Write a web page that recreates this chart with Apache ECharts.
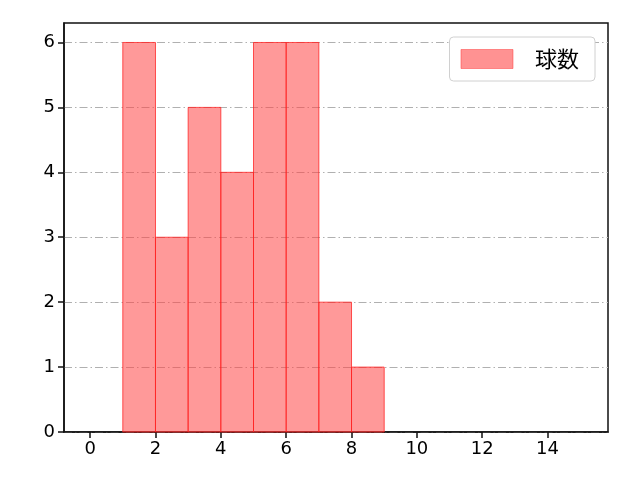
<!DOCTYPE html>
<html>
<head>
<meta charset="utf-8">
<script src="https://cdn.jsdelivr.net/npm/echarts@6/dist/echarts.min.js"></script>
<style>
  html, body { margin: 0; padding: 0; background: #fff; }
  #chart { width: 640px; height: 480px; }
</style>
</head>
<body>
<div id="chart"></div>
<script>
// histogram bins (left edge) and counts
const binStarts = [1, 2, 3, 4, 5, 6, 7, 8];
const binWidth = 1;
const counts = [6, 3, 5, 4, 6, 6, 2, 1];
const xTicks = [0, 2, 4, 6, 8, 10, 12, 14];
const yTicks = [0, 1, 2, 3, 4, 5, 6];
const seriesName = '球数';

const chart = echarts.init(document.getElementById('chart'));

const barData = binStarts.map((s, i) => [s, s + binWidth, counts[i]]);

const axisFont = { fontFamily: 'DejaVu Sans', fontSize: 18, color: '#000' };
const barFill = 'rgba(255,70,70,0.55)';
const barEdge = 'rgba(255,30,30,0.75)';

chart.setOption({
  animation: false,
  grid: {
    left: 64, right: 32, top: 23, bottom: 48,
    show: true, borderColor: '#111', borderWidth: 1.5, backgroundColor: 'transparent'
  },
  legend: {
    right: 45, top: 37,
    orient: 'vertical',
    data: [seriesName],
    icon: 'rect',
    itemWidth: 52, itemHeight: 19,
    padding: [11, 16, 11, 11],
    borderColor: '#d0d0d0', borderWidth: 1, borderRadius: 4,
    backgroundColor: '#fff',
    itemStyle: { color: 'rgba(255,110,110,0.75)', borderColor: 'rgba(255,60,60,0.5)', borderWidth: 1 },
    textStyle: { fontFamily: 'Noto Sans CJK JP', fontSize: 22, color: '#000', padding: [0, 0, 0, 17] }
  },
  xAxis: {
    type: 'value',
    min: -0.8, max: 15.85,
    axisLine: { show: true, onZero: false, lineStyle: { color: '#111', width: 1.5 } },
    axisTick: { show: true, length: 6, lineStyle: { color: '#111', width: 1.5 }, customValues: xTicks },
    axisLabel: { ...axisFont, margin: 8, customValues: xTicks },
    splitLine: { show: false }
  },
  yAxis: {
    type: 'value',
    min: 0, max: 6.3,
    axisLine: { show: true, onZero: false, lineStyle: { color: '#111', width: 1.5 } },
    axisTick: { show: true, length: 6, lineStyle: { color: '#111', width: 1.5 }, customValues: yTicks },
    axisLabel: { ...axisFont, margin: 9, customValues: yTicks },
    splitLine: {
      show: true,
      lineStyle: { color: '#b0b0b0', width: 1, type: [8, 3, 1.5, 3] }
    }
  },
  series: [{
    name: seriesName,
    type: 'custom',
    itemStyle: { color: barFill, borderColor: barEdge, borderWidth: 1 },
    renderItem: function (params, api) {
      const p0 = api.coord([api.value(0), api.value(2)]);
      const p1 = api.coord([api.value(1), 0]);
      return {
        type: 'rect',
        shape: { x: p0[0], y: p0[1], width: p1[0] - p0[0], height: p1[1] - p0[1] },
        style: { fill: barFill, stroke: barEdge, lineWidth: 1 }
      };
    },
    encode: { x: [0, 1], y: 2 },
    data: barData
  }]
});
</script>
</body>
</html>
